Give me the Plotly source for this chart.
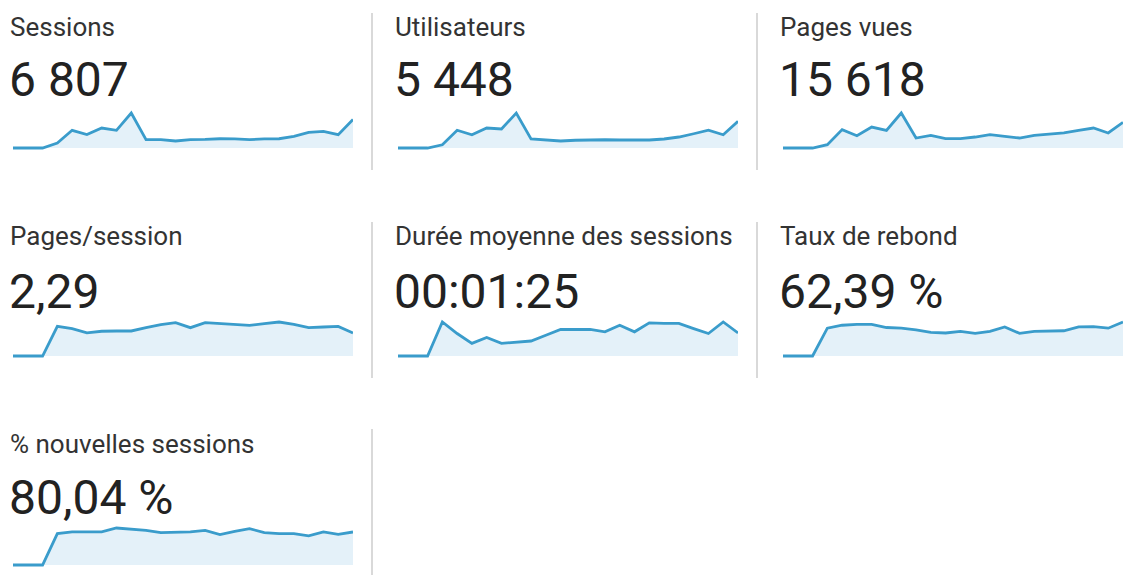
import plotly.graph_objects as go

W, H = 1136, 575

jours = [1, 2, 3, 4, 5, 6, 7, 8, 9, 10, 11, 12, 13, 14, 15, 16, 17, 18, 19, 20, 21, 22, 23, 24]

titres = ["Sessions", "Utilisateurs", "Pages vues", "Pages/session",
          "Durée moyenne des sessions", "Taux de rebond", "% nouvelles sessions"]
valeurs = ["6 807", "5 448", "15 618", "2,29", "00:01:25", "62,39 %", "80,04 %"]

sessions = [0, 0, 0, 120, 430, 325, 485, 430, 850, 205, 205, 170, 205, 210, 225, 220, 205, 220, 225, 285, 380, 405, 325, 690]
utilisateurs = [0, 0, 0, 65, 355, 265, 400, 380, 700, 180, 165, 140, 155, 165, 165, 160, 155, 160, 180, 220, 285, 355, 265, 535]
pages_vues = [0, 0, 0, 165, 910, 610, 1040, 875, 1735, 495, 625, 460, 460, 545, 660, 580, 495, 625, 695, 745, 875, 990, 745, 1270]
pages_session = [0, 0, 0, 2.31, 2.13, 1.80, 1.93, 1.95, 1.95, 2.21, 2.44, 2.60, 2.21, 2.60, 2.52, 2.47, 2.39, 2.52, 2.65, 2.47, 2.21, 2.26, 2.31, 1.80]
duree = [0, 0, 0, 118, 78, 44, 64, 44, 47, 52, 72, 92, 92, 92, 84, 107, 84, 115, 113, 113, 95, 78, 118, 80]
taux_rebond = [0, 0, 0, 64.5, 71.3, 73.5, 73.5, 66, 64.5, 60.8, 54.8, 53.3, 57, 52.5, 57, 67.5, 52.5, 57, 57, 58.5, 67.5, 68.3, 64.5, 78.8]
nouvelles = [0, 0, 0, 76, 80, 80, 80, 89.6, 86.4, 84, 78.4, 78.4, 80, 84, 73.6, 81.6, 88, 78.4, 76, 76, 70.4, 80, 74.4, 80]

series = [sessions, utilisateurs, pages_vues, pages_session, duree, taux_rebond, nouvelles]

LINE = "#3a9ccb"
FILL = "#e4f1f9"

col_x = [10, 395, 780]          # text left (px)
spark_x = [(13, 353), (398, 738), (783, 1123)]
rows = [  # title baseline, value baseline, spark top, spark bottom
    (36, 97, 113, 148),
    (245, 309, 322, 356),
    (453, 515, 528, 565),
]
dividers = [(372, 13, 170), (757, 13, 170), (372, 222, 378), (757, 222, 378), (372, 429, 575)]

fig = go.Figure()
layout = dict(width=W, height=H, margin=dict(l=0, r=0, t=0, b=0), autosize=False,
              paper_bgcolor="white", plot_bgcolor="rgba(0,0,0,0)", showlegend=False)
annotations = []
shapes = []

PAD = 3
for i, (t, v, ys) in enumerate(zip(titres, valeurs, series)):
    r, c = divmod(i, 3)
    tb, vb, st, sb = rows[r]
    x0, x1 = spark_x[c]
    ax = "" if i == 0 else str(i + 1)
    top = st - PAD
    bot = sb + PAD
    hpx = sb - st
    m = max(ys)
    per = m / hpx
    layout["xaxis" + ax] = dict(domain=[x0 / W, x1 / W], range=[jours[0], jours[-1]],
                               visible=False, fixedrange=True)
    layout["yaxis" + ax] = dict(domain=[1 - bot / H, 1 - top / H],
                               range=[-PAD * per, m + PAD * per],
                               visible=False, fixedrange=True)
    fig.add_trace(go.Scatter(x=jours, y=ys, mode="lines", xaxis="x" + ax, yaxis="y" + ax,
                             line=dict(color=LINE, width=2.8), fill="tozeroy", fillcolor=FILL,
                             hoverinfo="skip"))
    fs_t = 26
    annotations.append(dict(text=t, x=(col_x[c] - 1) / W, y=1 - (tb + 0.26 * fs_t) / H,
                            xref="paper", yref="paper", xanchor="left", yanchor="bottom",
                            showarrow=False, borderpad=0,
                            font=dict(family="Roboto", size=fs_t, color="#333333")))
    fs_v = 48
    annotations.append(dict(text=v, x=(col_x[c] - 2) / W, y=1 - (vb + 0.26 * fs_v) / H,
                            xref="paper", yref="paper", xanchor="left", yanchor="bottom",
                            showarrow=False, borderpad=0,
                            font=dict(family="Roboto", size=fs_v, color="#222222")))

for (x, y0, y1) in dividers:
    shapes.append(dict(type="line", xref="paper", yref="paper", x0=x / W, x1=x / W,
                       y0=1 - y0 / H, y1=1 - y1 / H, line=dict(color="#d9d9d9", width=2)))

layout["annotations"] = annotations
layout["shapes"] = shapes
fig.update_layout(**layout)
fig.write_html("out.html", config={"displayModeBar": False})
